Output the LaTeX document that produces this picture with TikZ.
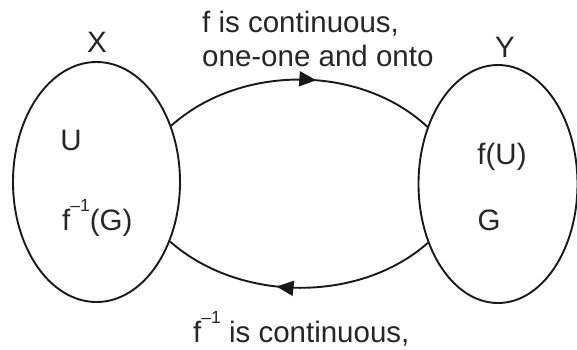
\documentclass[tikz,border=0pt]{standalone}
\usepackage{fontspec}
\setmainfont{Liberation Sans}
\usetikzlibrary{shapes.geometric,arrows.meta,decorations.markings}
\newcommand{\invsup}{\raisebox{19pt}{\fontsize{17.5}{17.5}\selectfont –1}}
\begin{document}
\begin{tikzpicture}[x=1pt,y=-1pt,
  setshape/.style={ellipse, draw=black!90, line width=1.9pt, inner sep=0pt},
  lbl/.style={inner sep=0pt, text=black!85, font=\fontsize{29.5}{34}\selectfont},
  maparrow/.style={line width=1.9pt, draw=black!90, postaction={decorate},
    decoration={markings, mark=at position #1 with {\arrow{Triangle[length=17pt,width=15pt]}}}}
]
\useasboundingbox (0,0) rectangle (577,349);
\node[setshape, minimum width=167pt, minimum height=240pt] (X) at (96.5,182) {};
\node[setshape, minimum width=159pt, minimum height=238pt] (Y) at (498,184) {};
\node[lbl, anchor=base] (xl) at (97,52) {X};
\node[lbl, anchor=base] (yl) at (505,57) {Y};
\node[lbl, anchor=base] (u) at (71,150) {U};
\node[lbl, anchor=base west] (fg) at (62,230) {f\invsup(G)};
\node[lbl, anchor=base] (fu) at (502,164) {f(U)};
\node[lbl, anchor=base] (g) at (489,230) {G};
\node[lbl, anchor=base west] (t1) at (202,32) {f is continuous,};
\node[lbl, anchor=base west] (t2) at (202,66) {one-one and onto};
\node[lbl, anchor=base west] (t3) at (193,342) {f\invsup\ is continuous,};
\draw[maparrow=0.56] (X.37) .. controls (240,64) and (360,64) .. (Y.141);
\draw[maparrow=0.58] (Y.220) .. controls (360,303) and (240,303) .. (X.-39);
\end{tikzpicture}
\end{document}
